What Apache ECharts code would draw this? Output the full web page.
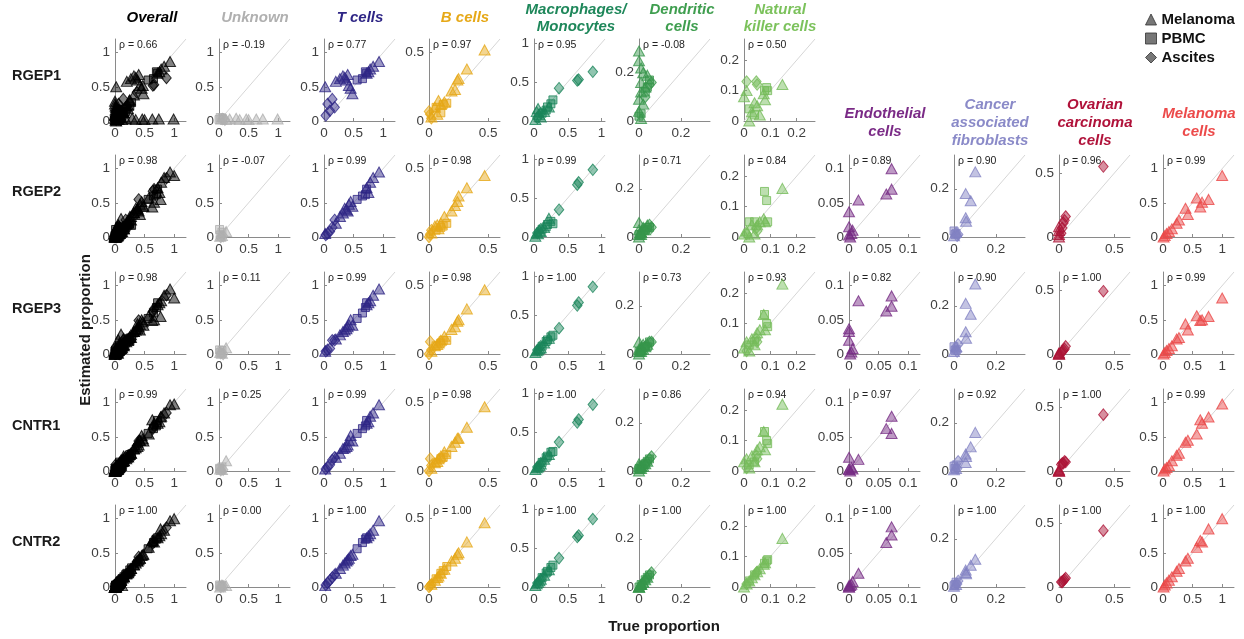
<!DOCTYPE html>
<html><head><meta charset="utf-8">
<script src="https://cdn.jsdelivr.net/npm/echarts@6/dist/echarts.min.js"></script>
<style>html,body{margin:0;padding:0;background:#fff}#c{width:1244px;height:639px}</style>
</head><body><div id="c"></div>
<script>
// ---------------- DATA ----------------
const rowNames = ['RGEP1','RGEP2','RGEP3','CNTR1','CNTR2'];
const colTitles = [['Overall'],['Unknown'],['T cells'],['B cells'],['Macrophages/','Monocytes'],['Dendritic','cells'],['Natural','killer cells'],['Endothelial','cells'],['Cancer','associated','fibroblasts'],['Ovarian','carcinoma','cells'],['Melanoma','cells']];
const sampleSources = ['Melanoma','PBMC','Ascites'];
const axisMax = [1.2,1.2,1.2,0.6,1.05,0.34,0.27,0.12,0.34,0.64,1.2];
const axisTicks = [[0,0.5,1],[0,0.5,1],[0,0.5,1],[0,0.5],[0,0.5,1],[0,0.2],[0,0.1,0.2],[0,0.05,0.1],[0,0.2],[0,0.5],[0,0.5,1]];
const rhoRGEP1 = [0.66,-0.19,0.77,0.97,0.95,-0.08,0.50];
const rhoRGEP2 = [0.98,-0.07,0.99,0.98,0.99,0.71,0.84,0.89,0.90,0.96,0.99];
const rhoRGEP3 = [0.98,0.11,0.99,0.98,1.00,0.73,0.93,0.82,0.90,1.00,0.99];
const rhoCNTR1 = [0.99,0.25,0.99,0.98,1.00,0.86,0.94,0.97,0.92,1.00,0.99];
const rhoCNTR2 = [1.00,0.00,1.00,1.00,1.00,1.00,1.00,1.00,1.00,1.00,1.00];

// Each array: [Melanoma values], [PBMC values], [Ascites values]
// Unknown
const unknownTrueRGEP1 = [[0.04,0.12,0.18,0.29,0.35,0.46,0.5,0.63,0.74,0.99],[0.02,0.05,0.0],[0.06,0.1]];
const unknownTrue = [[0.12,0.02,0.05],[0.01,0.05,0.02],[0.07,0.03]];
const unknownRGEP1 = [[0.03,0.02,0.03,0.04,0.02,0.03,0.02,0.03,0.03,0.03],[0.05,0.04,0.02],[0.03,0.02]];
const unknownRGEP2 = [[0.08,0.01,0.02],[0.11,0.07,0.03],[0.01,0.0]];
const unknownRGEP3 = [[0.09,0.02,0.01],[0.06,0.05,0.02],[0.0,0.01]];
const unknownCNTR1 = [[0.15,0.03,0.02],[0.04,0.06,0.03],[0.02,0.01]];
const unknownCNTR2 = [[0.02,0.0,0.03],[0.03,0.02,0.01],[0.01,0.0]];
// T cells
const tcellTrue  = [[0.02,0.2,0.27,0.32,0.38,0.42,0.45,0.4,0.48,0.72,0.78,0.83,0.93,0.75,0.35],[0.56,0.7,0.72,0.65],[0.03,0.06,0.1,0.14,0.18]];
const tcellRGEP1 = [[0.5,0.58,0.62,0.66,0.6,0.52,0.48,0.68,0.4,0.7,0.76,0.8,0.87,0.72,0.64],[0.6,0.72,0.7,0.62],[0.08,0.25,0.15,0.32,0.2]];
const tcellRGEP2 = [[0.05,0.2,0.3,0.35,0.4,0.48,0.52,0.38,0.45,0.72,0.8,0.87,0.95,0.65,0.42],[0.55,0.62,0.7,0.6],[0.03,0.05,0.08,0.14,0.25]];
const tcellRGEP3 = [[0.04,0.22,0.28,0.33,0.37,0.43,0.5,0.4,0.42,0.72,0.78,0.86,0.95,0.75,0.35],[0.52,0.68,0.75,0.6],[0.04,0.06,0.08,0.2,0.2]];
const tcellCNTR1 = [[0.03,0.2,0.26,0.33,0.36,0.45,0.52,0.38,0.44,0.7,0.8,0.85,0.97,0.72,0.34],[0.55,0.66,0.74,0.62],[0.03,0.06,0.09,0.16,0.2]];
const tcellCNTR2 = [[0.02,0.2,0.27,0.32,0.38,0.42,0.46,0.4,0.48,0.72,0.78,0.83,0.97,0.75,0.35],[0.56,0.7,0.72,0.65],[0.03,0.06,0.1,0.14,0.18]];
// B cells
const bcellTrue  = [[0.47,0.32,0.25,0.24,0.22,0.19,0.13,0.1,0.05,0.02,0.08,0.07],[0.15,0.12,0.1,0.06],[0.01,0.02,0.0]];
const bcellRGEP1 = [[0.52,0.38,0.31,0.3,0.23,0.22,0.14,0.12,0.1,0.03,0.15,0.05],[0.13,0.12,0.06,0.1],[0.05,0.02,0.07]];
const bcellRGEP2 = [[0.45,0.36,0.3,0.26,0.23,0.19,0.15,0.1,0.08,0.03,0.06,0.09],[0.1,0.08,0.07,0.05],[0.02,0.05,0.0]];
const bcellRGEP3 = [[0.47,0.33,0.25,0.24,0.2,0.18,0.13,0.1,0.06,0.02,0.08,0.07],[0.1,0.1,0.08,0.06],[0.09,0.03,0.0]];
const bcellCNTR1 = [[0.47,0.32,0.24,0.24,0.21,0.18,0.14,0.11,0.06,0.02,0.09,0.07],[0.12,0.1,0.09,0.06],[0.09,0.04,0.0]];
const bcellCNTR2 = [[0.47,0.33,0.25,0.24,0.21,0.19,0.13,0.1,0.05,0.02,0.08,0.07],[0.15,0.12,0.1,0.06],[0.01,0.02,0.0]];
// Macrophages / Monocytes
const macroTrue  = [[0.02,0.04,0.06,0.08,0.1,0.15,0.22],[0.18,0.2,0.25,0.28,0.12],[0.87,0.66,0.64,0.37,0.1,0.05]];
const macroRGEP1 = [[0.02,0.12,0.16,0.08,0.05,0.12,0.18],[0.14,0.18,0.22,0.27,0.1],[0.63,0.53,0.52,0.42,0.1,0.04]];
const macroRGEP2 = [[0.01,0.05,0.04,0.08,0.07,0.12,0.24],[0.13,0.16,0.2,0.17,0.1],[0.86,0.7,0.67,0.35,0.1,0.05]];
const macroRGEP3 = [[0.02,0.04,0.05,0.07,0.08,0.14,0.2],[0.16,0.18,0.22,0.24,0.1],[0.86,0.66,0.62,0.33,0.1,0.05]];
const macroCNTR1 = [[0.02,0.04,0.05,0.07,0.09,0.15,0.21],[0.17,0.19,0.24,0.25,0.11],[0.85,0.66,0.62,0.37,0.1,0.05]];
const macroCNTR2 = [[0.02,0.04,0.06,0.08,0.1,0.15,0.22],[0.18,0.2,0.25,0.28,0.12],[0.87,0.66,0.64,0.37,0.1,0.05]];
// Dendritic cells
const dendTrue  = [[0,0,0.01,0.02,0.04,0.01,0.03,0.01,0,0.02,0,0.01],[0.05,0.04,0.03,0.01,0],[0.05,0.06,0.03]];
const dendRGEP1 = [[0.29,0.25,0.22,0.2,0.19,0.16,0.14,0.12,0.09,0.07,0.04,0.01],[0.17,0.14,0.12,0.03,0.02],[0.15,0.16,0.1]];
const dendRGEP2 = [[0.06,0.03,0.02,0.04,0.05,0.02,0.03,0.01,0.0,0.03,0.01,0.02],[0.04,0.04,0.03,0.01,0.01],[0.05,0.04,0.03]];
const dendRGEP3 = [[0.05,0.02,0.03,0.04,0.04,0.02,0.03,0.01,0.0,0.02,0.01,0.02],[0.05,0.03,0.03,0.01,0.01],[0.05,0.05,0.03]];
const dendCNTR1 = [[0.03,0.02,0.02,0.03,0.04,0.02,0.03,0.01,0.0,0.02,0.01,0.02],[0.05,0.04,0.03,0.01,0.01],[0.05,0.06,0.03]];
const dendCNTR2 = [[0,0,0.01,0.02,0.04,0.01,0.03,0.01,0,0.02,0,0.01],[0.05,0.04,0.03,0.01,0],[0.05,0.06,0.03]];
// Natural killer cells
const nkTrue  = [[0.146,0.075,0.06,0.05,0.03,0.01,0.0,0.02,0.04,0.08],[0.078,0.086,0.09,0.02,0.04],[0.01,0.047,0.05]];
const nkRGEP1 = [[0.12,0.09,0.02,0.05,0.03,0.1,0.08,0.0,0.06,0.07],[0.1,0.11,0.1,0.04,0.02],[0.13,0.13,0.12]];
const nkRGEP2 = [[0.16,0.06,0.05,0.04,0.04,0.02,0.01,0.0,0.01,0.05],[0.15,0.12,0.05,0.05,0.05],[0.01,0.03,0.02]];
const nkRGEP3 = [[0.23,0.13,0.08,0.07,0.05,0.04,0.02,0.01,0.03,0.08],[0.13,0.1,0.09,0.03,0.04],[0.01,0.05,0.04]];
const nkCNTR1 = [[0.22,0.13,0.08,0.07,0.05,0.04,0.03,0.01,0.03,0.07],[0.13,0.1,0.09,0.02,0.03],[0.01,0.05,0.04]];
const nkCNTR2 = [[0.16,0.075,0.06,0.05,0.03,0.01,0.0,0.02,0.04,0.08],[0.078,0.086,0.09,0.02,0.04],[0.01,0.047,0.05]];
// Endothelial cells
const endoTrue  = [[0.072,0.072,0.063,0.016,0,0,0.006,0,0.002,0.004],[],[]];
const endoRGEP2 = [[0.1,0.07,0.063,0.054,0.037,0.015,0.01,0.003,0.0,0.005],[],[]];
const endoRGEP3 = [[0.085,0.07,0.063,0.078,0.037,0.02,0.008,0.033,0.0,0.003],[],[]];
const endoCNTR1 = [[0.08,0.055,0.062,0.017,0.02,0.003,0.003,0.002,0.0,0.005],[],[]];
const endoCNTR2 = [[0.088,0.076,0.065,0.02,0.0,0.002,0.008,0.0,0.002,0.004],[],[]];
// Cancer associated fibroblasts
const cafTrue  = [[0.102,0.056,0.08,0.056,0.058,0.01,0.0],[0.0,0.005,0.01],[0.02,0.015]];
const cafRGEP2 = [[0.27,0.18,0.15,0.08,0.065,0.02,0.005],[0.025,0.01,0.015],[0.01,0.005]];
const cafRGEP3 = [[0.29,0.21,0.165,0.092,0.065,0.03,0.01],[0.03,0.015,0.02],[0.04,0.01]];
const cafCNTR1 = [[0.16,0.07,0.1,0.035,0.06,0.01,0.005],[0.02,0.01,0.025],[0.04,0.01]];
const cafCNTR2 = [[0.115,0.07,0.09,0.06,0.055,0.01,0.003],[0.005,0.01,0.02],[0.025,0.012]];
// Ovarian carcinoma cells
const ovTrue  = [[0,0,0,0],[],[0.4,0.06,0.05,0.04,0.03,0.02]];
const ovRGEP2 = [[0,0.02,0.05,0.08],[],[0.55,0.16,0.13,0.11,0.07,0.03]];
const ovRGEP3 = [[0,0,0.01,0],[],[0.49,0.06,0.04,0.03,0.02,0.01]];
const ovCNTR1 = [[0,0,0.01,0],[],[0.44,0.07,0.075,0.06,0.06,0.05]];
const ovCNTR2 = [[],[],[0.44,0.07,0.06,0.05,0.04,0.04]];
// Melanoma cells
const melTrue  = [[1.0,0.57,0.66,0.77,0.63,0.38,0.42,0.27,0.23,0.15,0.1,0.06,0.03,0.01],[],[]];
const melRGEP2 = [[0.9,0.57,0.51,0.55,0.44,0.42,0.33,0.25,0.2,0.12,0.08,0.05,0.02,0.0],[],[]];
const melRGEP3 = [[0.82,0.56,0.5,0.55,0.49,0.44,0.35,0.24,0.22,0.12,0.08,0.05,0.02,0.0],[],[]];
const melCNTR1 = [[0.98,0.54,0.7,0.79,0.75,0.42,0.45,0.26,0.23,0.15,0.08,0.05,0.03,0.0],[],[]];
const melCNTR2 = [[1.0,0.58,0.66,0.85,0.68,0.38,0.42,0.27,0.23,0.15,0.1,0.06,0.03,0.0],[],[]];

// ---------------- ASSEMBLY ----------------
const rhoRows = [rhoRGEP1, rhoRGEP2, rhoRGEP3, rhoCNTR1, rhoCNTR2];
const colData = [
  null,
  {tx:[unknownTrueRGEP1, unknownTrue, unknownTrue, unknownTrue, unknownTrue], ey:[unknownRGEP1, unknownRGEP2, unknownRGEP3, unknownCNTR1, unknownCNTR2]},
  {tx:tcellTrue, ey:[tcellRGEP1, tcellRGEP2, tcellRGEP3, tcellCNTR1, tcellCNTR2]},
  {tx:bcellTrue, ey:[bcellRGEP1, bcellRGEP2, bcellRGEP3, bcellCNTR1, bcellCNTR2]},
  {tx:macroTrue, ey:[macroRGEP1, macroRGEP2, macroRGEP3, macroCNTR1, macroCNTR2]},
  {tx:dendTrue, ey:[dendRGEP1, dendRGEP2, dendRGEP3, dendCNTR1, dendCNTR2]},
  {tx:nkTrue, ey:[nkRGEP1, nkRGEP2, nkRGEP3, nkCNTR1, nkCNTR2]},
  {tx:endoTrue, ey:[null, endoRGEP2, endoRGEP3, endoCNTR1, endoCNTR2]},
  {tx:cafTrue, ey:[null, cafRGEP2, cafRGEP3, cafCNTR1, cafCNTR2]},
  {tx:ovTrue, ey:[null, ovRGEP2, ovRGEP3, ovCNTR1, ovCNTR2]},
  {tx:melTrue, ey:[null, melRGEP2, melRGEP3, melCNTR1, melCNTR2]}
];

function panelPoints(c, r) {
  const d = colData[c];
  const ey = d.ey[r];
  if (!ey) return null;
  const tx = (d.tx.length === 5) ? d.tx[r] : d.tx;
  return [0,1,2].map(k => (tx[k] || []).map((x, i) => [x, ey[k][i]]).filter(p => p[1] !== undefined));
}
function overallPoints(r) {
  const out = [[],[],[]];
  for (let c = 1; c < colData.length; c++) {
    const p = panelPoints(c, r);
    if (p) for (let k = 0; k < 3; k++) out[k] = out[k].concat(p[k]);
  }
  return out;
}

// ---------------- LAYOUT / STYLE ----------------
const FONT = '"Liberation Sans", Arial, Helvetica, sans-serif';
const colLeft = [115,219,324,429,534,639,744,849,954,1059,1163];
const rowBase = [121,237,354,471,587];
const PW = 71, PH = 82;
const colRGB = [[0,0,0],[175,175,175],[46,37,133],[230,168,23],[26,133,90],[55,150,75],[118,188,90],[118,42,131],[130,130,195],[172,20,55],[235,72,72]];
const titleColor = ['#000000','#b0b0b0','#2e2585','#e6a817','#1e875a','#3f9e4f','#7cc25c','#7a2a86','#8a8ac8','#b0123a','#ec4a4a'];
const titleCenter = [152,255,360,465,576,682,780,885,990,1095,1199];
const symbolNames = ['triangle','rect','diamond'];
const symbolSizes = [[11,10],8,[9.5,11.5]];
const rgba = (c,a) => `rgba(${c[0]},${c[1]},${c[2]},${a})`;

const grids = [], xAxes = [], yAxes = [], series = [], graphics = [];
let gi = 0;
for (let r = 0; r < 5; r++) {
  for (let c = 0; c < 11; c++) {
    const pts = c === 0 ? overallPoints(r) : panelPoints(c, r);
    if (!pts) continue;
    const top = rowBase[r] - PH;
    grids.push({left: colLeft[c], top: top, width: PW, height: PH, containLabel: false, outerBoundsMode: 'none'});
    const mx = axisMax[c];
    const common = {
      gridIndex: gi, type: 'value', min: 0, max: mx,
      splitLine: {show: false},
      axisLine: {show: true, onZero: false, lineStyle: {color: '#8a8a8a', width: 1}},
      axisTick: {show: true, inside: true, length: 3, lineStyle: {color: '#8a8a8a'}, customValues: axisTicks[c]},
      axisLabel: {show: true, customValues: axisTicks[c], fontSize: 13.5, color: '#404040', fontFamily: FONT, margin: 5}
    };
    xAxes.push(Object.assign({}, common));
    yAxes.push(Object.assign({}, common));
    series.push({
      type: 'line', xAxisIndex: gi, yAxisIndex: gi, data: [[0,0],[mx,mx]], symbol: 'none',
      lineStyle: {color: '#d6d6d6', width: 1}, silent: true, z: 1, animation: false
    });
    const col = colRGB[c];
    for (let k = 0; k < 3; k++) {
      if (!pts[k].length) continue;
      series.push({
        type: 'scatter', name: sampleSources[k], xAxisIndex: gi, yAxisIndex: gi, data: pts[k],
        symbol: symbolNames[k], symbolSize: symbolSizes[k],
        itemStyle: {color: rgba(col, c === 0 ? 0.62 : 0.6), borderColor: rgba(col, 1), borderWidth: 1},
        silent: true, z: 3, animation: false, emphasis: {disabled: true}
      });
    }
    graphics.push({type: 'text', x: colLeft[c] + 4, y: top + 1, silent: true,
      style: {text: 'ρ = ' + rhoRows[r][c].toFixed(2), fill: '#222', fontSize: 10.5, fontFamily: FONT, align: 'left', verticalAlign: 'top'}});
    gi++;
  }
}

// column titles
const titleRowY = [[18],[18],[18],[18],[10,27],[10,27],[10,27],[114,132],[105,123,141],[105,123,141],[114,132]];
colTitles.forEach((lines, c) => {
  lines.forEach((t, i) => {
    graphics.push({type: 'text', x: titleCenter[c], y: titleRowY[c][i], silent: true,
      style: {text: t, fill: titleColor[c], fontSize: 15, fontWeight: 'bold', fontStyle: 'italic', fontFamily: FONT, align: 'center', verticalAlign: 'middle'}});
  });
});
// row labels
rowNames.forEach((t, r) => {
  graphics.push({type: 'text', x: 12, y: rowBase[r] - 45, silent: true,
    style: {text: t, fill: '#1a1a1a', fontSize: 14.5, fontWeight: 'bold', fontFamily: FONT, align: 'left', verticalAlign: 'middle'}});
});
// axis titles
graphics.push({type: 'text', x: 664, y: 627, silent: true,
  style: {text: 'True proportion', fill: '#1a1a1a', fontSize: 15, fontWeight: 'bold', fontFamily: FONT, align: 'center', verticalAlign: 'middle'}});
graphics.push({type: 'text', x: 86, y: 330, rotation: Math.PI / 2, silent: true,
  style: {text: 'Estimated proportion', fill: '#1a1a1a', fontSize: 15, fontWeight: 'bold', fontFamily: FONT, align: 'center', verticalAlign: 'middle'}});

const chart = echarts.init(document.getElementById('c'), null, {renderer: 'canvas', width: 1244, height: 639});
chart.setOption({
  backgroundColor: '#ffffff',
  animation: false,
  textStyle: {fontFamily: FONT},
  grid: grids, xAxis: xAxes, yAxis: yAxes, series: series,
  legend: {
    orient: 'vertical', left: 1140, top: 7, itemWidth: 11, itemHeight: 11, itemGap: 4, selectedMode: false,
    textStyle: {fontSize: 15, fontWeight: 'bold', color: '#111', fontFamily: FONT},
    data: [
      {name: 'Melanoma', icon: 'triangle', itemStyle: {color: '#555', borderColor: '#333', borderWidth: 1}},
      {name: 'PBMC', icon: 'rect', itemStyle: {color: '#555', borderColor: '#333', borderWidth: 1}},
      {name: 'Ascites', icon: 'diamond', itemStyle: {color: '#555', borderColor: '#333', borderWidth: 1}}
    ]
  },
  graphic: graphics
});
</script>
</body></html>
